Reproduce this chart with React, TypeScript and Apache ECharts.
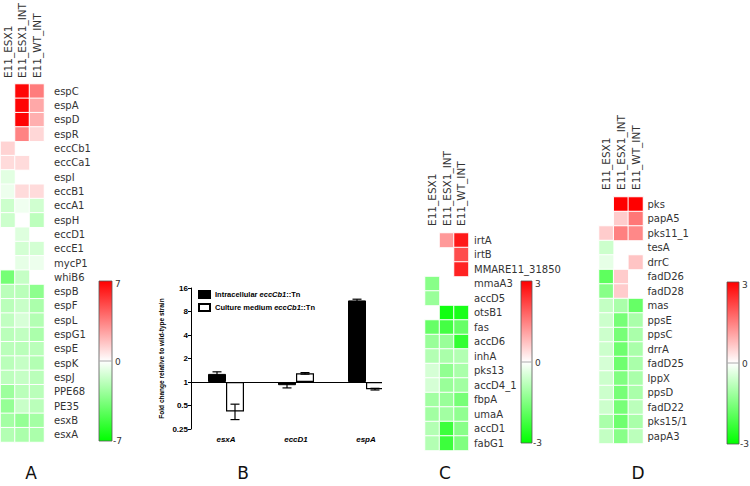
import React, { useEffect, useRef } from 'react';
import * as echarts from 'echarts';

// ---------- data ----------
const heatCols = ['E11_ESX1', 'E11_ESX1_INT', 'E11_WT_INT'];

const genesA = ['espC', 'espA', 'espD', 'espR', 'eccCb1', 'eccCa1', 'espI', 'eccB1', 'eccA1', 'espH', 'eccD1', 'eccE1', 'mycP1', 'whiB6', 'espB', 'espF', 'espL', 'espG1', 'espE', 'espK', 'espJ', 'PPE68', 'PE35', 'esxB', 'esxA'];
const esx1A = [null, null, null, null, 1.2, 1.0, -0.8, -0.5, -1.4, -1.4, null, null, null, -3.8, -1.9, -1.9, -1.7, -1.9, -1.9, -1.9, -1.8, -2.7, -2.9, -2.5, -2.1];
const esx1IntA = [6.8, 6.9, 6.9, 3.4, null, 1.0, null, 1.0, -0.4, null, -0.9, -1.2, -0.7, -1.6, -1.9, -1.5, -1.1, -1.7, -1.9, -1.6, -1.6, -1.9, -1.5, -2.9, -2.3];
const wtIntA = [3.6, 2.4, 2.2, 1.1, null, null, null, 1.0, -1.3, -1.8, null, -1.2, -0.5, null, -3.1, -2.3, -2.1, -2.3, -1.9, -2.1, -1.9, -1.9, -1.9, -2.5, -2.3];

const genesC = ['irtA', 'irtB', 'MMARE11_31850', 'mmaA3', 'accD5', 'otsB1', 'fas', 'accD6', 'inhA', 'pks13', 'accD4_1', 'fbpA', 'umaA', 'accD1', 'fabG1'];
const esx1C = [null, null, null, -1.4, -1.2, null, -1.8, -1.2, -0.9, -0.5, -0.5, -1.1, -1.1, -0.9, -0.9];
const esx1IntC = [1.2, null, null, null, null, -2.8, -2.2, -1.2, -1.0, -1.3, -1.2, -1.2, -1.1, -2.3, -2.3];
const wtIntC = [2.7, 2.1, 2.6, null, null, -2.7, -1.8, -2.4, -0.9, -1.0, -1.1, -1.6, -1.3, -1.4, -1.5];

const genesD = ['pks', 'papA5', 'pks11_1', 'tesA', 'drrC', 'fadD26', 'fadD28', 'mas', 'ppsE', 'ppsC', 'drrA', 'fadD25', 'lppX', 'ppsD', 'fadD22', 'pks15/1', 'papA3'];
const esx1D = [null, null, 0.6, -0.6, -0.3, -1.9, -1.4, -0.7, -0.6, -0.6, -0.6, -0.5, -0.6, -0.6, -0.6, -1.0, -0.7];
const esx1IntD = [3.0, 0.6, 1.5, null, null, 0.6, 0.6, -1.0, -1.6, -1.6, -1.7, -1.7, -1.5, -1.6, -1.6, -1.7, -1.4];
const wtIntD = [3.0, 1.6, 1.4, null, 0.7, null, null, -1.8, -1.0, -1.0, -1.0, -1.0, -1.0, -1.0, -0.8, -1.0, -0.8];

const barGenes = ['esxA', 'eccD1', 'espA'];
const intracellular = [1.27, 0.91, 11.1];
const intracellularLow = [1.19, 0.84, 10.7];
const intracellularHigh = [1.35, 0.98, 11.5];
const culture = [0.42, 1.29, 0.81];
const cultureLow = [0.33, 1.26, 0.79];
const cultureHigh = [0.52, 1.32, 0.83];
const foldTicks = [0.25, 0.5, 1, 2, 4, 8, 16];

// ---------- helpers ----------
const FONT = 'DejaVu Sans';
const ARIAL = 'Liberation Sans';

function heatData(cols: (number | null)[][]) {
  const out: any[] = [];
  cols.forEach((col, ci) => {
    col.forEach((v, ri) => {
      if (v !== null) out.push([ci, ri, v]);
    });
  });
  return out;
}

const log2 = (v: number) => Math.log2(v);

function errorSeries(name: string, low: number[], high: number[], offset: number) {
  return {
    type: 'custom',
    name,
    xAxisIndex: 1,
    yAxisIndex: 1,
    z: 5,
    silent: true,
    encode: { x: 0, y: [1, 2] },
    data: low.map((l, i) => [i, log2(l), log2(high[i])]),
    renderItem: (params: any, api: any) => {
      const xi = api.value(0);
      const lo = api.coord([xi, api.value(1)]);
      const hi = api.coord([xi, api.value(2)]);
      const x = lo[0] + offset;
      const st = { stroke: '#000', lineWidth: 1.2 };
      return {
        type: 'group',
        children: [
          { type: 'line', shape: { x1: x, y1: lo[1], x2: x, y2: hi[1] }, style: st },
          { type: 'line', shape: { x1: x - 4.5, y1: hi[1], x2: x + 4.5, y2: hi[1] }, style: st },
          { type: 'line', shape: { x1: x - 4.5, y1: lo[1], x2: x + 4.5, y2: lo[1] }, style: st },
        ],
      };
    },
  };
}

function heatX(gridIndex: number, margin: number) {
  return {
    type: 'category',
    gridIndex,
    data: heatCols,
    position: 'top',
    axisLine: { show: false },
    axisTick: { show: false },
    splitLine: { show: false },
    axisLabel: {
      rotate: -90,
      align: 'left',
      verticalAlign: 'middle',
      fontSize: 10.5,
      color: '#333',
      fontFamily: FONT,
      margin,
      interval: 0,
    },
  };
}

function heatY(gridIndex: number, genes: string[], margin: number) {
  return {
    type: 'category',
    gridIndex,
    data: genes,
    inverse: true,
    position: 'right',
    axisLine: { show: false },
    axisTick: { show: false },
    splitLine: { show: false },
    axisLabel: { fontSize: 10, color: '#333', fontFamily: FONT, margin, interval: 0 },
  };
}

function heatSeries(name: string, gi: number, data: any[]) {
  return {
    type: 'heatmap',
    name,
    xAxisIndex: gi,
    yAxisIndex: gi,
    data,
    itemStyle: { borderColor: '#fff', borderWidth: 1 },
    emphasis: { disabled: true },
    silent: true,
  };
}

function colorBar(x: number, y: number, w: number, h: number, maxLabel: string, minLabel: string) {
  return [
    {
      type: 'rect',
      shape: { x, y, width: w, height: h },
      style: {
        fill: new echarts.graphic.LinearGradient(0, 0, 0, 1, [
          { offset: 0, color: '#ff0000' },
          { offset: 0.5, color: '#ffffff' },
          { offset: 1, color: '#00ff00' },
        ]),
        stroke: '#555',
        lineWidth: 0.8,
      },
      z: 10,
    },
    { type: 'line', shape: { x1: x, y1: y + h / 2, x2: x + w, y2: y + h / 2 }, style: { stroke: '#aaa', lineWidth: 1 }, z: 11 },
    { type: 'text', x: x + w + 3, y: y + 3, style: { text: maxLabel, fontSize: 9, fontFamily: FONT, fill: '#333', textVerticalAlign: 'middle' }, z: 11 },
    { type: 'text', x: x + w + 3, y: y + h / 2 + 1, style: { text: '0', fontSize: 9, fontFamily: FONT, fill: '#333', textVerticalAlign: 'middle' }, z: 11 },
    { type: 'text', x: x + w + 1, y: y + h, style: { text: minLabel, fontSize: 9, fontFamily: FONT, fill: '#333', textVerticalAlign: 'middle' }, z: 11 },
  ];
}

function letter(text: string, x: number) {
  return { type: 'text', x, y: 473, style: { text, fontSize: 17, fontFamily: FONT, fill: '#111', textAlign: 'center', textVerticalAlign: 'middle' }, z: 11 };
}

const greenRed = ['#00ff00', '#ffffff', '#ff0000'];

export default function App() {
  const ref = useRef<HTMLDivElement>(null);
  useEffect(() => {
    if (!ref.current) return;
    const chart = echarts.init(ref.current, undefined, { renderer: 'svg' });
    const option: any = {
      animation: false,
      backgroundColor: '#fff',
      grid: [
        { left: 0.5, top: 80, width: 43.5, height: 362 },
        { left: 191, top: 288, width: 210, height: 141 },
        { left: 425, top: 233, width: 43.5, height: 217.5 },
        { left: 599, top: 197, width: 44, height: 246.5 },
      ],
      xAxis: [
        heatX(0, 6),
        {
          type: 'category',
          gridIndex: 1,
          data: barGenes,
          axisLine: { show: false },
          axisTick: { show: false },
          splitLine: { show: false },
          axisLabel: { fontSize: 8, fontWeight: 'bold', fontStyle: 'italic', color: '#000', fontFamily: ARIAL, margin: 6 },
        },
        heatX(2, 7),
        heatX(3, 7),
      ],
      yAxis: [
        heatY(0, genesA, 10),
        {
          type: 'value',
          gridIndex: 1,
          min: log2(foldTicks[0]),
          max: log2(foldTicks[foldTicks.length - 1]),
          interval: 1,
          splitLine: { show: false },
          axisLine: { show: true, lineStyle: { color: '#000', width: 1 } },
          axisTick: { show: true, length: 3, lineStyle: { color: '#000' } },
          axisLabel: {
            fontSize: 8,
            fontWeight: 'bold',
            color: '#000',
            fontFamily: ARIAL,
            margin: 3,
            formatter: (v: number) => String(Math.pow(2, v)),
          },
          name: 'Fold change relative to wild-type strain',
          nameLocation: 'middle',
          nameRotate: 90,
          nameGap: 26,
          nameTextStyle: { fontSize: 6.5, fontWeight: 'bold', color: '#000', fontFamily: ARIAL },
        },
        heatY(2, genesC, 5.5),
        heatY(3, genesD, 4.5),
      ],
      visualMap: [
        { type: 'continuous', show: false, seriesIndex: 0, min: -7, max: 7, inRange: { color: greenRed } },
        { type: 'continuous', show: false, seriesIndex: 5, min: -3, max: 3, inRange: { color: greenRed } },
        { type: 'continuous', show: false, seriesIndex: 6, min: -3, max: 3, inRange: { color: greenRed } },
      ],
      legend: {
        data: ['Intracellular', 'Culture'],
        left: 193,
        top: 285,
        orient: 'vertical',
        icon: 'rect',
        itemWidth: 11,
        itemHeight: 7,
        itemGap: 4,
        selectedMode: false,
        formatter: (n: string) =>
          n === 'Intracellular' ? '{b|Intracellular }{i|eccCb1}{b|::Tn}' : '{b|Culture medium }{i|eccCb1}{b|::Tn}',
        textStyle: {
          rich: {
            b: { fontSize: 7.5, fontWeight: 'bold', color: '#000', fontFamily: ARIAL },
            i: { fontSize: 7.5, fontWeight: 'bold', fontStyle: 'italic', color: '#000', fontFamily: ARIAL },
          },
        },
      },
      series: [
        heatSeries('A', 0, heatData([esx1A, esx1IntA, wtIntA])),
        {
          type: 'bar',
          name: 'Intracellular',
          xAxisIndex: 1,
          yAxisIndex: 1,
          barWidth: 18,
          barGap: '0%',
          data: intracellular.map(log2),
          itemStyle: { color: '#000', borderColor: '#000', borderWidth: 1 },
          silent: true,
          markLine: {
            silent: true,
            symbol: 'none',
            label: { show: false },
            lineStyle: { color: '#000', width: 1, type: 'solid' },
            data: [{ yAxis: 0 }],
          },
        },
        {
          type: 'bar',
          name: 'Culture',
          xAxisIndex: 1,
          yAxisIndex: 1,
          barWidth: 18,
          barGap: '0%',
          data: culture.map(log2),
          itemStyle: { color: '#fff', borderColor: '#000', borderWidth: 1.2 },
          silent: true,
        },
        errorSeries('Intracellular error', intracellularLow, intracellularHigh, -9),
        errorSeries('Culture error', cultureLow, cultureHigh, 9),
        heatSeries('C', 2, heatData([esx1C, esx1IntC, wtIntC])),
        heatSeries('D', 3, heatData([esx1D, esx1IntD, wtIntD])),
      ],
      graphic: [
        { type: 'rect', shape: { x: 382, y: 280, width: 30, height: 150 }, style: { fill: '#fff' }, z: 100 },
        ...colorBar(99, 281, 13, 160, '7', '-7'),
        ...colorBar(521, 281, 11, 162, '3', '-3'),
        ...colorBar(727, 282, 12, 162, '3', '-3'),
        letter('A', 31),
        letter('B', 243),
        letter('C', 445),
        letter('D', 638),
      ],
    };
    chart.setOption(option);
    return () => chart.dispose();
  }, []);
  return <div ref={ref} style={{ position: 'absolute', left: 0, top: 0, width: 750, height: 486 }} />;
}
